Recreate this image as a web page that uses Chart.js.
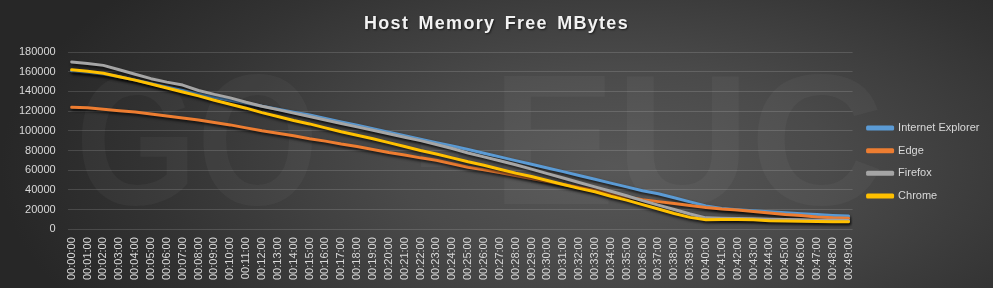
<!DOCTYPE html>
<html><head><meta charset="utf-8">
<script src="https://cdn.jsdelivr.net/npm/chart.js@4"></script>
<style>
html,body{margin:0;padding:0;}
body{width:993px;height:288px;overflow:hidden;background:radial-gradient(ellipse 62% 100% at 62% 58%, #575757 0%, #4a4a4a 35%, #333333 75%, #272727 100%);}
canvas{display:block;}
</style></head><body>
<canvas id="c" width="993" height="288"></canvas>
<script>
const categories = ["00:00:00","00:01:00","00:02:00","00:03:00","00:04:00","00:05:00","00:06:00","00:07:00","00:08:00","00:09:00",
"00:10:00","00:11:00","00:12:00","00:13:00","00:14:00","00:15:00","00:16:00","00:17:00","00:18:00","00:19:00",
"00:20:00","00:21:00","00:22:00","00:23:00","00:24:00","00:25:00","00:26:00","00:27:00","00:28:00","00:29:00",
"00:30:00","00:31:00","00:32:00","00:33:00","00:34:00","00:35:00","00:36:00","00:37:00","00:38:00","00:39:00",
"00:40:00","00:41:00","00:42:00","00:43:00","00:44:00","00:45:00","00:46:00","00:47:00","00:48:00","00:49:00"];

const seriesNames = ["Internet Explorer","Edge","Firefox","Chrome"];

const ieValues = [161000,159500,157800,155000,151500,148000,144500,141000,137500,134000,
131000,128000,125000,122000,119000,116000,112500,109000,105600,102000,
98500,95000,91500,88000,84500,81000,77200,73500,69700,66000,
62200,58500,54600,50700,46800,43000,39000,36000,32000,27800,
23500,21000,19800,18800,17800,16800,15800,14900,14000,13300];

const edgeValues = [124000,123500,122000,120500,119000,117000,115000,113000,111000,108500,
106000,103000,100000,97500,95000,92000,89500,86500,84000,81000,
78000,75500,72500,70000,66500,63000,60500,57500,54500,51500,
48500,45500,42500,39500,36000,33000,30000,28000,26000,24000,
22000,20500,19500,18000,16500,15000,14000,12500,11500,11000];

const firefoxValues = [170000,168500,166500,162000,157500,153000,149500,146500,141000,137000,
133500,129000,125000,121500,118000,114500,111000,107500,104000,100500,
97000,93500,90000,86000,82000,77500,73500,69500,65500,61000,
56500,52000,47500,43000,38500,34000,29000,24500,20000,15500,
11500,11000,10800,10500,10200,9800,9500,9200,9000,8800];

const chromeValues = [162000,160500,158500,155000,151500,147500,143500,139500,135500,131000,
127000,123000,118500,114500,110500,107000,103000,99000,95500,92000,
88000,84000,80000,76500,72500,68500,65000,61000,57000,53500,
49500,45500,41500,38000,33500,29500,25000,20500,16000,12000,
9500,9800,9800,9500,8600,8300,8000,7800,7600,7500];

const seriesColors = ["#5B9BD5","#ED7D31","#A5A5A5","#FFC000"];

const watermarkPlugin = {
  id: 'watermark',
  beforeDraw(chart) {
    const c = chart.ctx;
    c.save();
    c.fillStyle = 'rgba(255,255,255,0.035)';
    c.font = 'bold 186px "Liberation Sans"';
    c.textAlign = 'center';
    c.textBaseline = 'alphabetic';
    c.save(); c.translate(197, 204); c.scale(0.84, 1); c.fillText('GO', 0, 0); c.restore();
    c.save(); c.translate(440, 204); c.scale(0.8, 1); c.fillText('-', 0, 0); c.restore();
    c.fillText('EUC', 688, 204);
    c.restore();
    const t = chart.titleBlock;
    if (t && !t.__patched) {
      t.__patched = true;
      const orig = t.draw.bind(t);
      t.draw = function(area) {
        const ctx = this.ctx;
        ctx.save();
        ctx.letterSpacing = '1.3px';
        ctx.wordSpacing = '3px';
        ctx.shadowColor = 'rgba(0,0,0,0.6)';
        ctx.shadowBlur = 2; ctx.shadowOffsetX = 1; ctx.shadowOffsetY = 1;
        orig(area);
        ctx.restore();
      };
    }
  }
};

const shadowPlugin = {
  id: 'lineShadow',
  beforeDatasetsDraw(chart) {
    const c = chart.ctx;
    c.save();
    c.shadowColor = 'rgba(0,0,0,0.75)';
    c.shadowBlur = 3; c.shadowOffsetX = 1; c.shadowOffsetY = 2;
  },
  afterDatasetsDraw(chart) { chart.ctx.restore(); }
};

const legendPlace = {
  id: 'legendPlace',
  afterLayout(chart) {
    const lg = chart.legend;
    if (!lg) return;
    const w = lg.width;
    lg.left = 856; lg.right = 856 + w;
    lg.top = 111; lg.bottom = 213; lg.height = 102;
  }
};

const datasets = [ieValues, edgeValues, firefoxValues, chromeValues].map((vals, i) => ({
  label: seriesNames[i],
  data: vals,
  borderColor: seriesColors[i],
  backgroundColor: seriesColors[i],
  order: 4 - i
}));

new Chart(document.getElementById('c'), {
  type: 'line',
  data: { labels: categories.map((_, i) => i), datasets },
  options: {
    responsive: false,
    animation: false,
    layout: { padding: { left: 7, right: 7, top: 0, bottom: 8 } },
    elements: {
      line: { borderWidth: 3, tension: 0, borderJoinStyle: 'round', borderCapStyle: 'round', fill: false },
      point: { radius: 0, hoverRadius: 0 }
    },
    scales: {
      x: {
        type: 'linear', min: -0.25, max: 49.25,
        grid: { display: false }, border: { display: false },
        ticks: {
          stepSize: 1, autoSkip: false, includeBounds: false,
          minRotation: 90, maxRotation: 90, padding: 0,
          color: '#d9d9d9', font: { family: 'Liberation Sans', size: 11 },
          callback: (v) => (Number.isInteger(v) && categories[v] !== undefined) ? categories[v] : ''
        }
      },
      y: {
        min: 0, max: 180000,
        grid: { color: 'rgba(255,255,255,0.14)', drawTicks: false, lineWidth: 1 },
        border: { display: false },
        ticks: { stepSize: 20000, padding: 12, color: '#d9d9d9', font: { family: 'Liberation Sans', size: 11 }, callback: (v) => String(v) }
      }
    },
    plugins: {
      title: { display: true, text: 'Host Memory Free MBytes', color: '#f2f2f2',
        font: { family: 'Liberation Sans', size: 18, weight: 'bold' }, padding: { top: 13, bottom: 17.5 } },
      legend: { position: 'right',
        labels: { boxWidth: 25, boxHeight: 2, padding: 11.6, color: '#d9d9d9',
          font: { family: 'Liberation Sans', size: 11 }, sort: (a, b) => a.datasetIndex - b.datasetIndex } },
      tooltip: { enabled: false }
    }
  },
  plugins: [watermarkPlugin, shadowPlugin, legendPlace]
});
</script>
</body></html>
